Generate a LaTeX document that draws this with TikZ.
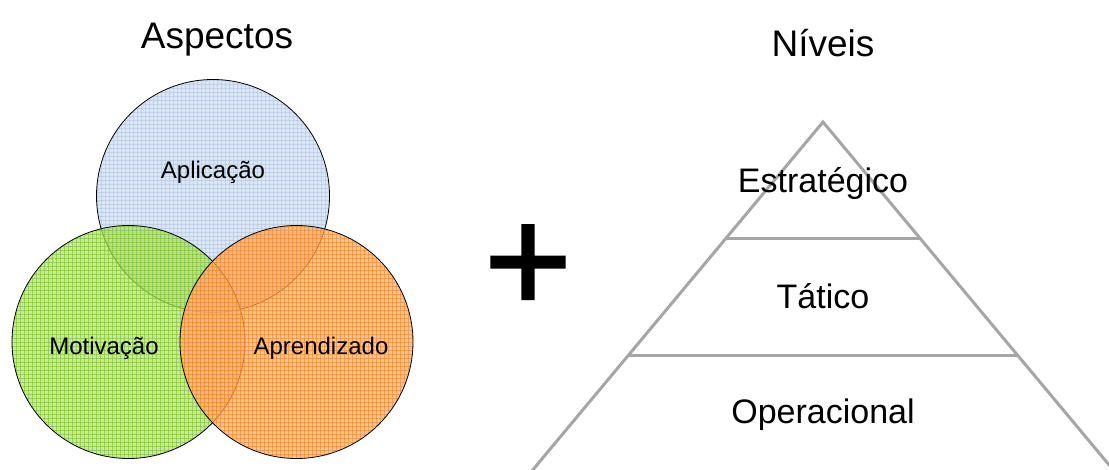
\documentclass[tikz,border=0pt]{standalone}
\usepackage{fontspec}
\setmainfont{Liberation Sans}
\newfontfamily\fontemais[FakeBold=1.6]{Liberation Sans}
\usepackage{tikz}

\definecolor{azulF}{RGB}{220,230,242}
\definecolor{azulG}{RGB}{175,197,228}
\definecolor{verdeF}{RGB}{176,222,119}
\definecolor{verdeG}{RGB}{120,195,50}
\definecolor{laranjaF}{RGB}{248,172,108}
\definecolor{laranjaG}{RGB}{240,135,45}
\definecolor{cinza}{RGB}{166,166,166}

\begin{document}
\begin{tikzpicture}[x=1pt,y=-1pt]
			\useasboundingbox (0,0) rectangle (1109,469);
			\clip (0,0) rectangle (1109,469);
			% titulos
			\node[font=\fontsize{37}{40}\selectfont, anchor=base] (aspectos) at (217,48) {Aspectos};
			\node[font=\fontsize{37}{40}\selectfont, anchor=base] (niveis) at (823,56) {Níveis};
			% circulos
			\foreach \cx/\cy/\fc/\gc/\op in {213/196/azulF/azulG/1, 128.5/342/verdeF/verdeG/0.7, 296.5/342/laranjaF/laranjaG/0.7} {
				\begin{scope}
					\clip (\cx,\cy) circle (116.5);
					\fill[\fc, fill opacity=\op] (\cx-120,\cy-120) rectangle (\cx+120,\cy+120);
					\foreach \k in {-30,...,30} {
						\draw[\gc, line width=0.4pt, opacity=0.6] (\cx+4*\k,\cy-120) -- (\cx+4*\k,\cy+120);
						\draw[\gc, line width=0.4pt, opacity=0.6] (\cx-120,\cy+4*\k) -- (\cx+120,\cy+4*\k);
					}
				\end{scope}
				\draw[line width=0.8pt] (\cx,\cy) circle (116.5);
			}
			\node[font=\fontsize{24}{28}\selectfont] (aplicacao) at (213,172) {Aplicação};
			\node[font=\fontsize{24}{28}\selectfont] (motivacao) at (104,348) {Motivação};
			\node[font=\fontsize{24}{28}\selectfont] (aprendizado) at (321,348) {Aprendizado};
			% mais
			\node[font=\fontemais\fontsize{150}{156}\selectfont, inner sep=0pt] (mais) at (528,268.7) {+};
			% piramide
			\coordinate (topo) at (823,122);
			\coordinate (baseE) at (531,472);
			\coordinate (baseD) at (1115,472);
			\coordinate (n1E) at (726,238);
			\coordinate (n1D) at (920,238);
			\coordinate (n2E) at (628,355.5);
			\coordinate (n2D) at (1018,355.5);
			\draw[cinza, line width=3pt] (baseE) -- (topo) -- (baseD);
			\draw[cinza, line width=3pt] (n1E) -- (n1D);
			\draw[cinza, line width=3pt] (n2E) -- (n2D);
			\node[font=\fontsize{34}{38}\selectfont, anchor=base] (estrategico) at (823,192) {Estratégico};
			\node[font=\fontsize{34}{38}\selectfont, anchor=base] (tatico) at (823,308) {Tático};
			\node[font=\fontsize{34}{38}\selectfont, anchor=base] (operacional) at (823,423) {Operacional};
		\end{tikzpicture}
\end{document}
